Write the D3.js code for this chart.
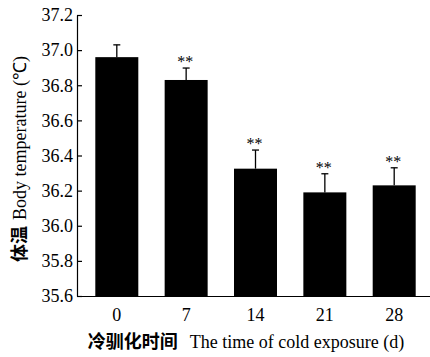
<!DOCTYPE html>
<html>
<head>
<meta charset="utf-8">
<script src="https://cdn.jsdelivr.net/npm/d3@7"></script>
<style>
	body { margin: 0; background: #fff; }
	svg { display: block; }
	.title { font-family: "Liberation Serif", serif; font-size: 18px; fill: #000; }
	.title .cn { font-family: "Noto Sans CJK SC", sans-serif; font-weight: bold; }
	.star { font-family: "Liberation Serif", serif; font-size: 16px; fill: #000; }
</style>
</head>
<body>
<svg id="chart" width="430" height="357"></svg>
<script>
// days of cold exposure
var days = ["0", "7", "14", "21", "28"];
// mean body temperature and standard error
var temps = [36.96, 36.83, 36.325, 36.19, 36.23];
var errs = [0.07, 0.068, 0.106, 0.106, 0.10];
// significance marks above each bar
var marks = ["", "**", "**", "**", "**"];
var yticks = [35.6, 35.8, 36.0, 36.2, 36.4, 36.6, 36.8, 37.0, 37.2];

var data = days.map(function(d, i) { return {day: d, temp: temps[i], err: errs[i], mark: marks[i]}; });

var chart = d3.select("#chart");
// plot area edges (window.top is reserved, so prefix the names)
var plotLeft = 77, plotBottom = 296, plotTop = 15;

var y = d3.scaleLinear().domain([35.6, 37.2]).range([plotBottom, plotTop]);
var x = d3.scaleBand().domain(days).range([plotLeft, 434]).paddingInner(0.38).paddingOuter(0.264);

// bars first, axes drawn on top
var bars = chart.selectAll("g.bar").data(data).enter().append("g").attr("class", "bar")
	.attr("transform", function(d) { return "translate(" + x(d.day) + ",0)"; });
bars.append("rect").attr("y", function(d) { return y(d.temp); })
	.attr("height", function(d) { return y(35.6) - y(d.temp); })
	.attr("width", x.bandwidth()).attr("fill", "#000");
// upper error bar only, the lower half is hidden in the bar
var cx = x.bandwidth() / 2;
bars.append("line").attr("x1", cx).attr("x2", cx)
	.attr("y1", function(d) { return y(d.temp); }).attr("y2", function(d) { return y(d.temp + d.err); })
	.attr("stroke", "#000").attr("stroke-width", 1.3);
bars.append("line").attr("x1", cx - 3.5).attr("x2", cx + 3.5)
	.attr("y1", function(d) { return y(d.temp + d.err); }).attr("y2", function(d) { return y(d.temp + d.err); })
	.attr("stroke", "#000").attr("stroke-width", 1.3);
bars.append("text").attr("class", "star").attr("text-anchor", "middle").attr("x", cx - 1)
	.attr("y", function(d) { return y(d.temp + d.err) - 1; })
	.text(function(d) { return d.mark; });

// y axis, ticks point into the plot
var yaxis = chart.append("g").attr("transform", "translate(" + plotLeft + ",0)")
	.call(d3.axisLeft(y).tickValues(yticks).tickFormat(d3.format(".1f")).tickSizeInner(-5).tickSizeOuter(0).tickPadding(4));

// x axis without tick marks
var xaxis = chart.append("g").attr("transform", "translate(0," + plotBottom + ")")
	.call(d3.axisBottom(x).tickSize(0).tickPadding(12));

[yaxis, xaxis].forEach(function(a) {
	a.attr("font-family", "'Liberation Serif', 'Times New Roman', serif").attr("font-size", 18);
	a.selectAll("path, line").attr("stroke", "#000").attr("stroke-width", 1.2);
	a.selectAll("text").attr("fill", "#000");
});

// axis titles
var xt = chart.append("text").attr("class", "title").attr("text-anchor", "middle")
	.attr("x", 246).attr("y", 348);
xt.append("tspan").attr("class", "cn").text("冷驯化时间");
xt.append("tspan").attr("dx", 12).text("The time of cold exposure (d)");

var yt = chart.append("text").attr("class", "title").attr("text-anchor", "middle")
	.attr("transform", "translate(26,159) rotate(-90)");
yt.append("tspan").attr("class", "cn").text("体温");
yt.append("tspan").attr("dx", 6).text("Body temperature (℃)");
</script>
</body>
</html>
